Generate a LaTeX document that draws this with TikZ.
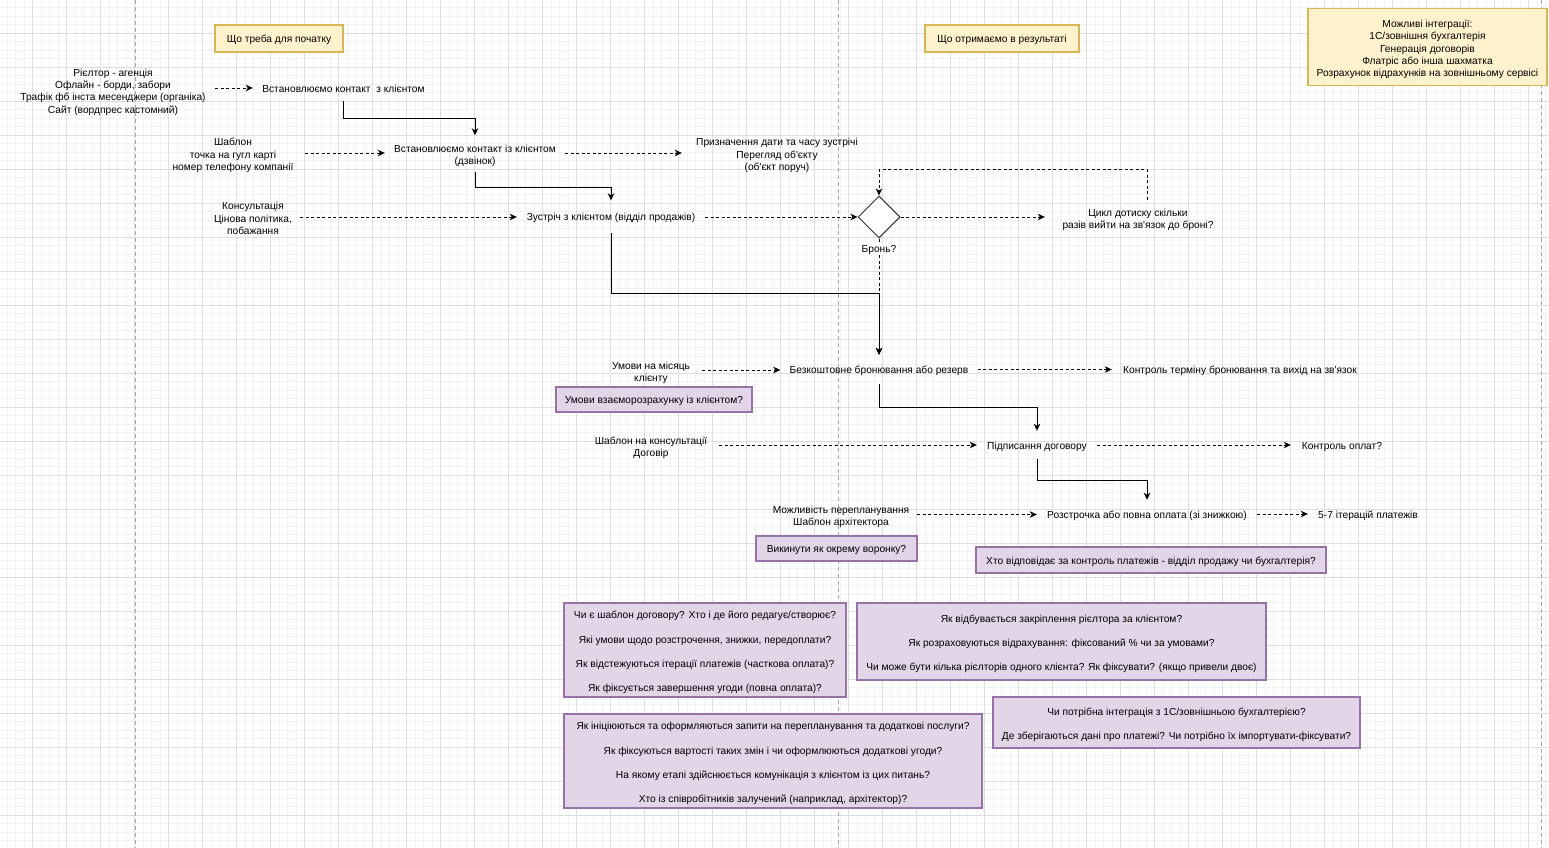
\documentclass[tikz,border=0pt]{standalone}
\usepackage{fontspec}
\setmainfont{Liberation Sans}[Ligatures=TeXOff]
\usetikzlibrary{arrows.meta,shapes.geometric}
\definecolor{yfill}{HTML}{FFF2CC}
\definecolor{ystroke}{HTML}{D6B656}
\definecolor{pfill}{HTML}{E1D5E7}
\definecolor{pstroke}{HTML}{9673A6}
\definecolor{gminor}{HTML}{F2F2F2}
\definecolor{gmajor}{HTML}{DEDEDE}
\definecolor{lane}{HTML}{A8A8A8}
\newcommand\topstrut{\rule{0pt}{13pt}}
\newcommand\onestrut{\rule{0pt}{11pt}}
\newcommand\botstrut{\rule[-2.59pt]{0pt}{2.59pt}}
\tikzset{
  txt/.style={font=\fontsize{10.2pt}{12.24pt}\selectfont, align=center, inner sep=0pt, text=black},
  ybox/.style={txt, draw=ystroke, fill=yfill, line width=1.1pt},
  pbox/.style={txt, draw=pstroke, fill=pfill, line width=1.1pt},
  tip/.style={-{Stealth[length=7pt,width=6.5pt,inset=2pt]}},
  dl/.style={tip, draw=black, line width=0.85pt, dash pattern=on 3pt off 2.5pt},
  sl/.style={tip, draw=black, line width=1pt},
  gridminor/.style={draw=gminor, line width=0.7pt},
  gridmajor/.style={draw=gmajor, line width=0.9pt},
  lanesep/.style={draw=lane, line width=1pt, dash pattern=on 4pt off 3pt},
}
\begin{document}
\begin{tikzpicture}[x=1pt, y=-1pt]
\useasboundingbox (0,0) rectangle (1549,848);
\fill[white] (0,0) rectangle (1549,848);
% grid
\foreach \i in {0,...,181} \draw[gridminor] ({7.2+8.5*\i},0) -- ({7.2+8.5*\i},848);
\foreach \i in {0,...,98} \draw[gridminor] (0,{7.8+8.5*\i}) -- (1549,{7.8+8.5*\i});
\foreach \i in {0,...,44} \draw[gridmajor] ({32.7+34*\i},0) -- ({32.7+34*\i},848);
\foreach \i in {0,...,23} \draw[gridmajor] (0,{33.3+34*\i}) -- (1549,{33.3+34*\i});
% lane separators
\draw[lanesep] (135,0) -- (135,848);
\draw[lanesep] (838,0) -- (838,848);
\draw[lanesep] (1541.5,0) -- (1541.5,848);

% headers
\node[ybox, minimum width=128, minimum height=27] (h1) at (279,38.5) {\onestrut Що треба для початку\botstrut};
\node[ybox, minimum width=154, minimum height=27] (h2) at (1002,38.5) {\onestrut Що отримаємо в результаті\botstrut};
\node[ybox, minimum width=239, minimum height=77] (h3) at (1427.5,47)
  {\topstrut Можливі інтеграції:\\1С/зовнішня бухгалтерія\\Генерація договорів\\Флатріс або інша шахматка\\Розрахунок відрахунків на зовнішньому сервісі\botstrut};

% flow nodes
\node[txt, minimum width=204, minimum height=52] (src1) at (113,89.5)
  {\topstrut Рієлтор - агенція\\Офлайн - борди, забори\\Трафік фб інста месенджери (органіка)\\Сайт (вордпрес кастомний)\botstrut};
\node[txt, minimum width=181, minimum height=26] (c1) at (343.5,88) {\onestrut Встановлюємо контакт\ \ з клієнтом\botstrut};
\node[txt, minimum width=144, minimum height=40] (src2) at (233,153)
  {\topstrut Шаблон\\точка на гугл карті\\номер телефону компанії\botstrut};
\node[txt, minimum width=180, minimum height=36] (c2) at (475,153.5) {\topstrut Встановлюємо контакт із клієнтом\\(дзвінок)\botstrut};
\node[txt, minimum width=190, minimum height=40] (res2) at (777,153)
  {\topstrut Призначення дати та часу зустрічі\\Перегляд об'єкту\\(об'єкт поруч)\botstrut};
\node[txt, minimum width=94, minimum height=40] (src3) at (253,217)
  {\topstrut Консультація\\Цінова політика,\\побажання\botstrut};
\node[txt, minimum width=188, minimum height=32] (meet) at (611,216.5) {\onestrut Зустріч з клієнтом (відділ продажів)\botstrut};
\node[diamond, draw=black!80, fill=white, line width=1pt, minimum width=42, minimum height=42, inner sep=0pt] (dia) at (879,217) {};
\node[txt, minimum width=186, minimum height=35] (cyc) at (1138,217.5)
  {\topstrut Цикл дотиску скільки\\разів вийти на зв'язок до броні?\botstrut};
\node[txt, minimum width=197, minimum height=29] (free) at (879,369.5) {\onestrut Безкоштовне бронювання або резерв\botstrut};
\node[txt, minimum width=102, minimum height=28] (src4) at (651,370) {\topstrut Умови на місяць\\клієнту\botstrut};
\node[txt, minimum width=256, minimum height=26] (ctrl1) at (1240,369.5) {\onestrut Контроль терміну бронювання та вихід на зв'язок\botstrut};
\node[txt, minimum width=120, minimum height=28] (sign) at (1037,445) {\onestrut Підписання договору\botstrut};
\node[txt, minimum width=136, minimum height=28] (src5) at (651,445) {\topstrut Шаблон на консультації\\Договір\botstrut};
\node[txt, minimum width=102, minimum height=26] (ctrl2) at (1342,445) {\onestrut Контроль оплат?\botstrut};
\node[txt, minimum width=152, minimum height=28] (src6) at (841,514.5) {\topstrut Можливість перепланування\\Шаблон архітектора\botstrut};
\node[txt, minimum width=220, minimum height=28] (inst) at (1147,514) {\onestrut Розстрочка або повна оплата (зі знижкою)\botstrut};
\node[txt, minimum width=120, minimum height=26] (iter) at (1368,514) {\onestrut 5-7 ітерацій платежів\botstrut};

% purple notes
\node[pbox, minimum width=196, minimum height=25] (p1) at (654,399.5) {\onestrut Умови взаєморозрахунку із клієнтом?\botstrut};
\node[pbox, minimum width=161, minimum height=25] (p2) at (836.5,548.5) {\onestrut Викинути як окрему воронку?\botstrut};
\node[pbox, minimum width=350, minimum height=26] (p3) at (1151,560) {\onestrut Хто відповідає за контроль платежів - відділ продажу чи бухгалтерія?\botstrut};
\node[pbox, minimum width=282, minimum height=94] (qa) at (705,650)
  {\topstrut Чи є шаблон договору? Хто і де його редагує/створює?\\[12pt]Які умови щодо розстрочення, знижки, передоплати?\\[12pt]Як відстежуються ітерації платежів (часткова оплата)?\\[12pt]Як фіксується завершення угоди (повна оплата)?\botstrut};
\node[pbox, minimum width=409, minimum height=77] (qb) at (1061.5,641.5)
  {\topstrut Як відбувається закріплення рієлтора за клієнтом?\\[12pt]Як розраховуються відрахування: фіксований \% чи за умовами?\\[12pt]Чи може бути кілька рієлторів одного клієнта? Як фіксувати? (якщо привели двоє)\botstrut};
\node[pbox, minimum width=418, minimum height=94] (qc) at (773,761)
  {\topstrut Як ініціюються та оформляються запити на перепланування та додаткові послуги?\\[12pt]Як фіксуються вартості таких змін і чи оформлюються додаткові угоди?\\[12pt]На якому етапі здійснюється комунікація з клієнтом із цих питань?\\[12pt]Хто із співробітників залучений (наприклад, архітектор)?\botstrut};
\node[pbox, minimum width=367, minimum height=51] (qd) at (1176.5,722.5)
  {\topstrut Чи потрібна інтеграція з 1С/зовнішньою бухгалтерією?\\[12pt]Де зберігаються дані про платежі? Чи потрібно їх імпортувати-фіксувати?\botstrut};

% dashed connectors
\draw[dl] (src1.east |- c1.west) -- (c1.west);
\draw[dl] (src2.east) -- (c2.west |- src2.east);
\draw[dl] (c2.east |- res2.west) -- (res2.west);
\draw[dl] (src3.east) -- (meet.west |- src3.east);
\draw[dl] (meet.east |- dia.west) -- (dia.west);
\draw[dl] (dia.east) -- (cyc.west |- dia.east);
\draw[dl] ([xshift=9pt]cyc.north) -- ++(0,-30) -| (dia.north);
\draw[dl] (dia.south) -- (free.north);
\draw[dl] (src4.east) -- (free.west |- src4.east);
\draw[dl] (free.east) -- (ctrl1.west);
\draw[dl] (src5.east) -- (sign.west);
\draw[dl] (sign.east) -- (ctrl2.west);
\draw[dl] (src6.east) -- (inst.west |- src6.east);
\draw[dl] (inst.east) -- (iter.west);

% solid connectors
\draw[sl] (c1.south) -- ++(0,17) -| (c2.north);
\draw[sl] (c2.south) -- ++(0,16) -| (meet.north);
\draw[sl] (meet.south) -- ++(0,61) -| (free.north);
\draw[sl] (free.south) -- ++(0,23) -| (sign.north);
\draw[sl] (sign.south) -- ++(0,21) -| (inst.north);

\node[txt, fill=white, inner xsep=1pt, inner ysep=0pt] (bron) at (879,249) {\rule{0pt}{9.65pt}Бронь?\botstrut};
\end{tikzpicture}
\end{document}
